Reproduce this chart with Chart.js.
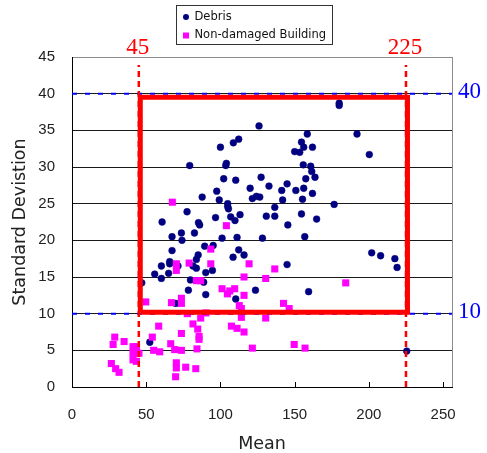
<!DOCTYPE html>
<html>
<head>
<meta charset="utf-8">
<script src="https://cdn.jsdelivr.net/npm/chart.js@4.4.1/dist/chart.umd.min.js"></script>
<style>
html,body{margin:0;padding:0;background:#fff;}
#wrap{width:487px;height:453px;}
</style>
</head>
<body>
<div id="wrap"><canvas id="c" width="487" height="453"></canvas></div>
<script>
// ---- data ----
const debrisX = [126,100,108.7,112.3,79.3,104,103.6,102.2,110.3,127.4,120,132.7,141.3,144.9,97.5,99.2,87.7,121.5,124.2,126.5,141.9,104.9,104.9,105.4,77.5,60.7,85.2,86,96.7,106.9,109.8,113.2,130.9,136.6,136.6,145.4,67.4,73.7,74.1,82.5,101.1,111.2,128.3,67.4,89.4,95.1,112.3,115.9,108.5,85,83.8,65.8,65.8,60.2,71.4,81.5,83.8,55.7,60.2,65.1,90.1,94.6,79.8,88.7,78.4,90.1,110.3,123.6,144.9,47,69.9,52.4,180,180,158.5,192,154.6,156.1,162,150,153.4,200.3,155.8,160.8,161.5,163.7,157.5,150.8,156.1,162,155.3,176.6,154.6,164.8,156.8,201.9,207.9,217.5,219,159.4,225.5];
const debrisY = [35.6,32.7,33.3,33.8,30.2,30.5,30.2,28.4,28.2,28.6,27.1,27.4,26.8,27.7,26.7,25.5,25.9,25.7,26.0,25.9,25.5,25,24.6,24.3,23.9,22.5,22.4,22.1,23.1,23.2,22.7,23.5,23.3,24.5,23.3,22.1,20.5,21,20,21,20.3,20.4,20.3,18.6,19.2,19.3,18.7,18.0,17.7,18.0,17.4,17.1,16.8,16.5,16.5,16.5,16.2,15.4,14.8,15.5,15.6,15.9,14.6,14.3,13.2,12.6,12,13.2,16.7,14.2,11.4,6.1,38.7,38.4,34.5,34.5,33.4,32.7,32.7,32.1,32,31.7,30.3,30.1,29.4,28.6,28.4,26.8,27.1,26.4,25.6,24.9,23.6,22.9,20.5,18.3,17.9,17.5,16.3,13,4.9];
const nonDamagedX = [67.6,104,93.5,78.9,70.3,70.3,93.5,119.3,136.6,115.9,130.5,83.8,86.7,101.1,104.7,106.3,109.6,115.9,49.7,73.7,73.7,67,112.7,114.1,114.1,142.5,146.3,77.7,90.2,86.7,130.5,58.4,81.5,84.7,85.6,85.6,73.7,107.4,111.2,115.9,54.1,66.5,69.2,73.7,55,59.1,84.2,121.5,70.3,70.3,69.8,76.6,83.4,41.1,43.4,41.1,43.4,41.1,43.4,45.1,28.8,27.7,35.1,26.5,29.4,31.7,149.7,157,184.4];
const nonDamagedY = [25.2,22.0,18.8,16.9,16.8,15.9,16.8,16.8,16.1,15.0,14.8,14.5,14.5,13.4,12.7,13.1,13.4,12.5,11.6,12.1,11.4,11.5,11.1,10.7,9.5,11.4,10.7,10.0,10.1,9.4,9.4,8.3,8.6,7.9,6.9,6.5,7.3,8.3,8.0,7.5,6.8,5.9,5.1,5.0,5.0,4.8,5.2,5.3,3.3,2.6,1.4,2.7,2.5,5.5,5.5,4.6,4.6,3.7,3.5,4.6,6.8,5.8,6.2,3.2,2.5,2.0,5.8,5.3,14.2];
const seriesNames = ['Debris', 'Non-damaged Building'];
const xTicks = [0, 50, 100, 150, 200, 250];
const yTicks = [0, 5, 10, 15, 20, 25, 30, 35, 40, 45];
const xRange = [0, 256];
const refVerticalX = [45, 225];      // red dashed lines (Mean)
const refVerticalSpan = [0, 43.9];
const refHorizontalY = [40, 10];     // blue dashed lines (Std. dev.)
const boxX = [46, 226];              // red box
const boxY = [10.2, 39.5];
const xAxisTitle = 'Mean';
const yAxisTitle = 'Standard Devistion';

const toPts = (xs, ys) => xs.map((x, i) => ({x: x, y: ys[i]}));

const datasets = [
  {label: seriesNames[0], data: toPts(debrisX, debrisY), backgroundColor: '#000080', borderColor: '#000080',
   pointStyle: 'circle', pointRadius: 3.4, borderWidth: 0.5, order: 5},
  {label: seriesNames[1], data: toPts(nonDamagedX, nonDamagedY), backgroundColor: '#ff00ff', borderColor: '#ff00ff',
   pointStyle: 'rect', pointRadius: 5, borderWidth: 0, order: 4}
];
refHorizontalY.forEach(v => datasets.push({
  label: '_ref', data: [{x: xRange[0], y: v}, {x: xRange[1], y: v}], showLine: true, pointRadius: 0,
  borderColor: '#0000ff', borderWidth: 2, borderDash: [5, 8], order: 3
}));
refVerticalX.forEach(v => datasets.push({
  label: '_ref', data: [{x: v, y: refVerticalSpan[0]}, {x: v, y: refVerticalSpan[1]}], showLine: true, pointRadius: 0,
  borderColor: '#ff0000', borderWidth: 2.5, borderDash: [6, 4], order: 2
}));
datasets.push({
  label: '_ref', data: [{x: boxX[0], y: boxY[0]}, {x: boxX[0], y: boxY[1]}, {x: boxX[1], y: boxY[1]}, {x: boxX[1], y: boxY[0]}, {x: boxX[0], y: boxY[0]}],
  showLine: true, pointRadius: 0, borderColor: '#ff0000', borderWidth: 5, borderJoinStyle: 'miter', order: 1
});

const overlay = {
  id: 'overlay',
  beforeDatasetsDraw(chart) {
    const {ctx, chartArea: a, scales: {x}} = chart;
    ctx.save();
    ctx.strokeStyle = '#8c8c8c'; ctx.lineWidth = 1;
    ctx.beginPath(); ctx.moveTo(a.right + 0.5, a.top); ctx.lineTo(a.right + 0.5, a.bottom); ctx.stroke();
    ctx.strokeStyle = '#000';
    xTicks.forEach(v => {
      const px = Math.round(x.getPixelForValue(v)) + 0.5;
      ctx.beginPath(); ctx.moveTo(px, a.bottom); ctx.lineTo(px, a.bottom - 5); ctx.stroke();
    });
    ctx.restore();
  },
  afterDraw(chart) {
    const {ctx, scales: {x, y}} = chart;
    ctx.save();
    // reference value labels
    ctx.font = '23px "Liberation Serif", "Times New Roman", serif';
    ctx.textBaseline = 'alphabetic';
    ctx.textAlign = 'center';
    ctx.fillStyle = '#ff0000';
    refVerticalX.forEach(v => ctx.fillText(String(v), x.getPixelForValue(v) - 1, 54));
    ctx.fillStyle = '#0000ff';
    ctx.textAlign = 'left';
    ctx.textBaseline = 'middle';
    refHorizontalY.forEach(v => ctx.fillText(String(v), 458, y.getPixelForValue(v) - 2));
    // legend
    ctx.fillStyle = '#fff';
    ctx.fillRect(176.5, 5.5, 156, 39);
    ctx.strokeStyle = '#333'; ctx.lineWidth = 1;
    ctx.strokeRect(176.5, 5.5, 156, 39);
    ctx.font = '11.5px "DejaVu Sans", sans-serif';
    ctx.textAlign = 'left';
    ctx.textBaseline = 'middle';
    const rows = [17, 35.5];
    chart.data.datasets.slice(0, 2).forEach((ds, i) => {
      ctx.fillStyle = ds.backgroundColor;
      if (ds.pointStyle === 'circle') {
        ctx.beginPath(); ctx.arc(186, rows[i], 3, 0, Math.PI * 2); ctx.fill();
      } else {
        ctx.fillRect(183, rows[i] - 3, 6, 6);
      }
      ctx.fillStyle = '#111';
      ctx.fillText(ds.label, 194.5, rows[i]);
    });
    ctx.restore();
  }
};

new Chart(document.getElementById('c'), {
  type: 'scatter',
  data: {datasets: datasets},
  options: {
    responsive: false,
    animation: false,
    events: [],
    layout: {padding: {top: 57, right: 35, left: 0, bottom: 0}},
    plugins: {legend: {display: false}, tooltip: {enabled: false}},
    scales: {
      x: {
        type: 'linear', min: xRange[0], max: xRange[1],
        afterBuildTicks: s => { s.ticks = xTicks.map(v => ({value: v})); },
        afterFit: s => { s.height = 66; },
        grid: {display: false, drawTicks: false},
        border: {display: true, color: '#000', width: 1},
        ticks: {padding: 19, color: '#222', font: {family: '"Liberation Sans", Arial, sans-serif', size: 15}},
        title: {display: true, text: xAxisTitle, color: '#222', padding: {top: 0, bottom: -2},
                font: {family: '"DejaVu Sans", sans-serif', size: 17.5}}
      },
      y: {
        type: 'linear', min: 0, max: 45,
        afterBuildTicks: s => { s.ticks = yTicks.map(v => ({value: v})); },
        afterFit: s => { s.width = 72; },
        grid: {drawTicks: false, color: c => (c.tick && c.tick.value === 45) ? '#8c8c8c' : '#1a1a1a', lineWidth: 1},
        border: {display: true, color: '#000', width: 1},
        ticks: {padding: 17, color: '#222', font: {family: '"Liberation Sans", Arial, sans-serif', size: 15}},
        title: {display: true, text: yAxisTitle, color: '#222', padding: {top: 10, bottom: 0},
                font: {family: '"DejaVu Sans", sans-serif', size: 17.5}}
      }
    }
  },
  plugins: [overlay]
});
</script>
</body>
</html>
